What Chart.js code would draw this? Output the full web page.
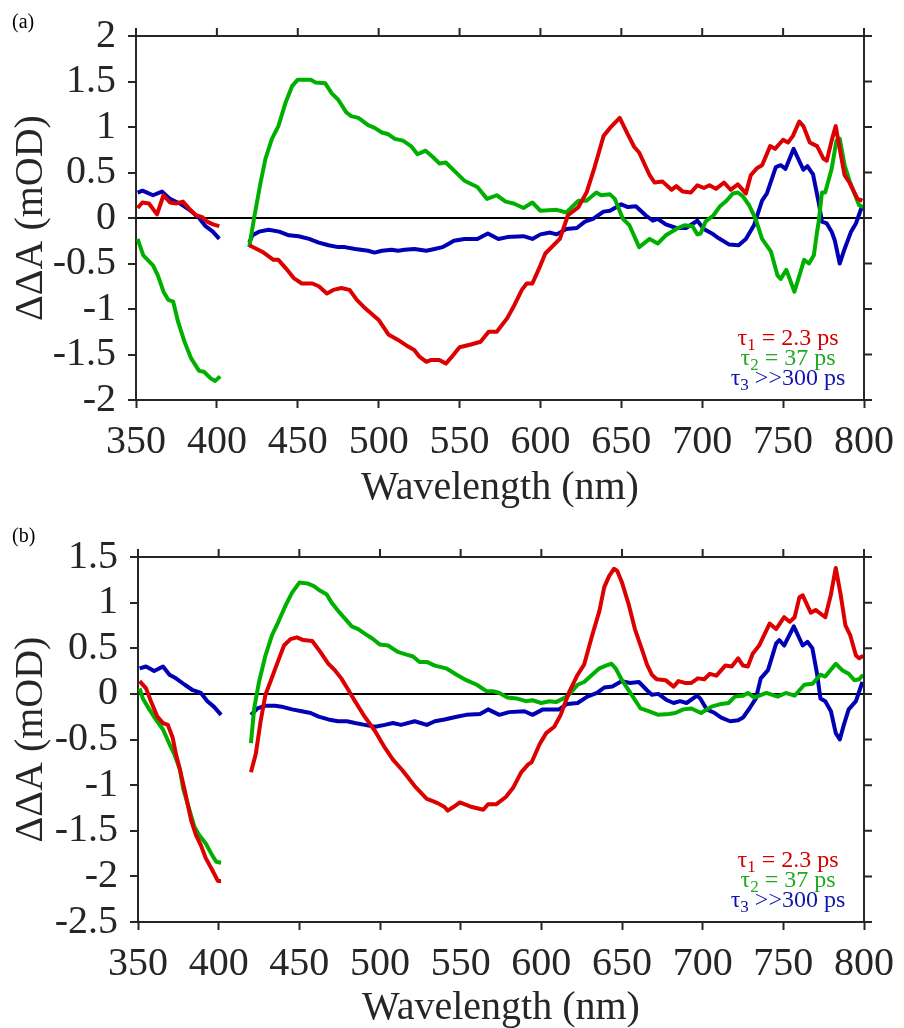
<!DOCTYPE html>
<html>
<head>
<meta charset="utf-8">
<script src="https://cdn.jsdelivr.net/npm/chart.js@4.4.0/dist/chart.umd.min.js"></script>
<style>
  body { margin: 0; background: #fff; }
  .panel { position: absolute; left: 0; width: 904px; }
  #panelA { top: 0; height: 521px; }
  #panelB { top: 521px; height: 507px; }
</style>
</head>
<body>
<div class="panel" id="panelA"><canvas id="chart_a"></canvas></div>
<div class="panel" id="panelB"><canvas id="chart_b"></canvas></div>
<script>
// wavelength (nm), value (mOD); [410, null] = gap in the measured range
const redA = [[351,0.11],[354,0.17],[358,0.16],[363,0.04],[367,0.25],[371,0.17],[375,0.16],[379,0.18],[383,0.10],[387,0.03],[391,0.01],[394,-0.04],[397.5,-0.07],[401.5,-0.09],
  [410,null],
  [420,-0.30],[428,-0.37],[435,-0.46],[438,-0.46],[442.5,-0.55],[447.5,-0.66],[452.5,-0.72],[459,-0.72],[463,-0.75],[468,-0.83],[472,-0.79],[477,-0.77],[482,-0.79],[486.5,-0.90],[491.5,-0.99],[500,-1.12],[506,-1.28],[512,-1.34],[518,-1.41],[522,-1.45],[525,-1.52],[529.5,-1.58],[532.5,-1.56],[537.5,-1.56],[541.5,-1.60],[544.5,-1.54],[550,-1.42],[557,-1.39],[563,-1.36],[568,-1.25],[573,-1.25],[579.5,-1.10],[583.5,-0.97],[588.5,-0.79],[591.5,-0.72],[595,-0.72],[600,-0.52],[603,-0.39],[608,-0.30],[612,-0.23],[617,0.03],[623.5,0.12],[628.5,0.28],[633.5,0.56],[639,0.90],[643,0.99],[649,1.10],[654,0.92],[658,0.78],[661,0.72],[667.5,0.47],[670.5,0.39],[675.5,0.40],[681,0.31],[684,0.35],[688,0.29],[693,0.28],[697,0.36],[701,0.33],[704.5,0.36],[708.5,0.32],[713.5,0.39],[717.5,0.31],[722,0.37],[727,0.27],[730,0.47],[734,0.55],[737,0.58],[742,0.79],[745,0.76],[750,0.86],[753,0.83],[756,0.90],[760,1.06],[762.5,1.01],[766.5,0.83],[771,0.79],[775,0.65],[777,0.63],[780,0.85],[782.5,1.01],[785,0.76],[788,0.47],[791,0.39],[796,0.21],[799,0.19]];

const greenA = [[351,-0.23],[354.5,-0.41],[360.5,-0.52],[363.5,-0.63],[367,-0.81],[370,-0.90],[373,-0.92],[376,-1.14],[380,-1.36],[384,-1.54],[389,-1.68],[392,-1.69],[396,-1.76],[399,-1.79],[402,-1.74],
  [410,null],
  [420,-0.32],[423,0.0],[427,0.39],[430,0.65],[434,0.87],[438,1.01],[442.5,1.27],[446.5,1.45],[450,1.52],[458,1.52],[461,1.49],[467,1.48],[471,1.37],[475,1.30],[480,1.16],[483,1.12],[487.5,1.10],[493.5,1.02],[497.5,0.99],[502,0.94],[506,0.92],[510,0.87],[515,0.85],[520,0.79],[524,0.70],[529,0.74],[533.5,0.67],[537.5,0.60],[541.5,0.61],[549,0.48],[553,0.41],[561,0.34],[567,0.21],[573,0.25],[578.5,0.18],[583.5,0.16],[589.5,0.11],[595,0.17],[600,0.08],[610,0.09],[616,0.06],[623.5,0.19],[628.5,0.19],[634.5,0.28],[637.5,0.25],[643,0.26],[646,0.21],[651,-0.01],[655,-0.08],[661,-0.32],[667.5,-0.23],[672.5,-0.28],[677.5,-0.19],[684,-0.12],[689,-0.08],[694,-0.09],[697,-0.18],[699,-0.17],[702,-0.04],[707,0.03],[711,0.13],[715,0.19],[719,0.27],[722,0.28],[725,0.24],[729,0.14],[733,-0.01],[737,-0.23],[742.5,-0.37],[746.5,-0.63],[748.5,-0.67],[752,-0.57],[757,-0.81],[763,-0.46],[766,-0.50],[769,-0.41],[771,-0.15],[772,-0.04],[774,0.28],[776,0.28],[780,0.54],[783,0.85],[785,0.87],[788,0.58],[791,0.41],[797,0.14],[799.5,0.12]];

const blueA = [[351,0.28],[354,0.30],[360.5,0.25],[366,0.29],[371,0.21],[377,0.16],[383,0.09],[389,0.0],[393,-0.09],[397.5,-0.15],[401.5,-0.23],
  [410,null],
  [420,-0.27],[422,-0.19],[426,-0.15],[432,-0.13],[438.5,-0.15],[444.5,-0.19],[450.5,-0.20],[457,-0.23],[463,-0.27],[469,-0.30],[475,-0.32],[479,-0.32],[485.5,-0.34],[493.5,-0.36],[497.5,-0.38],[502,-0.36],[508,-0.35],[512,-0.36],[516,-0.35],[522,-0.34],[529.5,-0.36],[534.5,-0.34],[539.5,-0.32],[542.5,-0.29],[546.5,-0.25],[553,-0.23],[561,-0.23],[567.5,-0.17],[574,-0.23],[579.5,-0.21],[589.5,-0.20],[595,-0.23],[600,-0.18],[606,-0.16],[610,-0.18],[616,-0.12],[622.5,-0.11],[627.5,-0.04],[632.5,-0.01],[639,0.07],[643,0.08],[650,0.15],[654,0.12],[659,0.13],[665,0.03],[669.5,-0.03],[672.5,-0.01],[677.5,-0.07],[684,-0.11],[690,-0.11],[697,-0.03],[701,-0.12],[706,-0.17],[710,-0.22],[716.5,-0.29],[722.5,-0.30],[727,-0.23],[732,-0.08],[737,0.19],[740,0.27],[745.5,0.56],[748.5,0.58],[751.5,0.54],[756.5,0.76],[762.5,0.53],[765,0.57],[768.5,0.48],[772,0.17],[774,-0.04],[777,-0.06],[780,-0.15],[782,-0.25],[785,-0.50],[788,-0.34],[792,-0.15],[795,-0.06],[799,0.14]];

const redB = [[351,0.14],[355,0.06],[358,-0.08],[362,-0.25],[365.5,-0.32],[368.5,-0.34],[371.5,-0.48],[373.5,-0.66],[376,-0.83],[379,-1.06],[383,-1.39],[386,-1.55],[389,-1.66],[392,-1.80],[396,-1.93],[399.5,-2.05],[401.5,-2.05],
  [410,null],
  [420,-0.86],[423,-0.66],[426,-0.30],[429,-0.01],[432,0.13],[436,0.32],[440.5,0.53],[444.5,0.60],[448.5,0.62],[452.5,0.59],[458,0.58],[463,0.46],[468,0.33],[472,0.26],[476,0.17],[480.5,0.04],[484.5,-0.08],[490.5,-0.25],[497,-0.41],[503,-0.59],[508,-0.72],[514,-0.84],[521.5,-1.01],[529,-1.15],[532,-1.17],[536,-1.20],[540,-1.24],[542,-1.28],[545.5,-1.24],[549.5,-1.19],[557,-1.24],[564,-1.27],[567,-1.21],[572,-1.21],[578,-1.13],[582.5,-1.03],[587.5,-0.86],[592,-0.77],[594,-0.75],[599,-0.55],[603,-0.43],[608,-0.36],[612,-0.23],[617,0.01],[622.5,0.21],[626.5,0.32],[631.5,0.64],[636,0.91],[639,1.17],[642,1.29],[645,1.37],[647,1.35],[650,1.22],[654,0.99],[658,0.71],[662.5,0.48],[665.5,0.32],[668.5,0.21],[671.5,0.16],[677,0.15],[682,0.08],[685,0.14],[689,0.12],[693,0.12],[697,0.17],[701,0.16],[704.5,0.22],[708.5,0.20],[714,0.31],[718,0.30],[722,0.39],[725,0.31],[728,0.30],[731,0.44],[735,0.53],[741.5,0.77],[745.5,0.71],[750.5,0.84],[754,0.79],[757,0.84],[760,1.06],[762,1.08],[767,0.89],[770,0.92],[776,0.84],[779.5,1.09],[782.5,1.38],[785.5,1.09],[788.5,0.75],[791.5,0.64],[795,0.42],[797,0.39],[799.5,0.42]];

const greenB = [[351,0.06],[353,-0.05],[357,-0.17],[361,-0.28],[365.5,-0.39],[369.5,-0.55],[372.5,-0.66],[376,-0.83],[378,-1.04],[382,-1.28],[385,-1.46],[388,-1.55],[392,-1.64],[396,-1.77],[398.5,-1.84],[401.5,-1.85],
  [410,null],
  [420,-0.54],[422,-0.16],[425,0.13],[429,0.42],[433,0.64],[437,0.79],[441.5,0.97],[445.5,1.11],[450,1.22],[455,1.21],[459,1.18],[463,1.13],[467,1.09],[470,1.00],[475,0.89],[479.5,0.80],[482.5,0.74],[486.5,0.71],[490.5,0.66],[495,0.61],[500,0.54],[505,0.53],[511,0.46],[516.5,0.43],[520.5,0.41],[524.5,0.35],[529,0.35],[534,0.31],[541,0.28],[547.5,0.21],[553.5,0.15],[560,0.10],[566,0.03],[570,0.03],[574,0.01],[579,-0.04],[584.5,-0.05],[590.5,-0.08],[594.5,-0.07],[600,-0.10],[605,-0.08],[609,-0.09],[616,-0.03],[622.5,0.10],[626.5,0.13],[631.5,0.21],[636,0.28],[640,0.31],[643.5,0.33],[646,0.28],[650,0.15],[656,-0.01],[661.5,-0.16],[666.5,-0.19],[672.5,-0.23],[679,-0.22],[683,-0.21],[688,-0.17],[693,-0.16],[699,-0.21],[705.5,-0.14],[711.5,-0.11],[716,-0.10],[720,-0.03],[725,-0.02],[728,0.01],[732,-0.04],[739.5,0.01],[746.5,-0.03],[751.5,0.01],[757,-0.02],[763,0.10],[768,0.11],[773,0.21],[776,0.19],[782.5,0.33],[786.5,0.26],[790.5,0.22],[794,0.15],[797,0.16],[799.5,0.21]];

const blueB = [[351,0.28],[355,0.30],[360,0.25],[365.5,0.30],[369.5,0.21],[373.5,0.17],[379,0.10],[384,0.04],[389,0.01],[393,-0.08],[397,-0.14],[401.5,-0.23],
  [410,null],
  [420,-0.23],[424,-0.16],[429,-0.13],[435,-0.13],[439,-0.14],[445.5,-0.17],[451.5,-0.19],[457,-0.21],[462,-0.25],[468,-0.28],[474,-0.30],[479.5,-0.30],[484.5,-0.32],[490.5,-0.34],[497,-0.36],[503,-0.34],[508,-0.32],[513,-0.34],[521.5,-0.30],[529,-0.34],[534,-0.30],[540,-0.28],[547.5,-0.25],[553.5,-0.23],[562,-0.22],[567,-0.17],[574,-0.23],[580,-0.20],[589.5,-0.19],[594.5,-0.23],[601,-0.17],[607,-0.17],[611,-0.17],[616,-0.11],[622.5,-0.10],[628.5,-0.03],[634.5,0.01],[639,0.07],[644,0.08],[650,0.14],[655,0.12],[660.5,0.13],[665.5,0.04],[668.5,-0.01],[672.5,0.0],[678,-0.07],[682,-0.10],[686,-0.08],[690,-0.10],[696.5,-0.02],[698.5,-0.05],[702.5,-0.17],[707.5,-0.21],[711.5,-0.26],[717,-0.30],[722,-0.29],[725,-0.26],[729,-0.16],[733,-0.05],[736,0.17],[740.5,0.26],[745.5,0.55],[747.5,0.59],[750.5,0.53],[756.5,0.74],[762,0.53],[765,0.57],[768,0.50],[771,0.21],[773,-0.05],[776,-0.08],[779.5,-0.19],[782.5,-0.43],[785,-0.50],[787.5,-0.34],[790.5,-0.17],[795,-0.08],[799,0.13]];

const xTicks = [350, 400, 450, 500, 550, 600, 650, 700, 750, 800];
const yTicksA = [2, 1.5, 1, 0.5, 0, -0.5, -1, -1.5, -2];
const yTicksB = [1.5, 1, 0.5, 0, -0.5, -1, -1.5, -2, -2.5];

const legendSub = ['1', '2', '3'];
const legendRest = [' = 2.3 ps', ' = 37 ps', ' >>300 ps'];
const legendColors = ['#d40000', '#22a822', '#1212b0'];
const lineColors = ['#dc0000', '#00b000', '#0000b4'];

const axisColor = '#262626';
const serif = '"Liberation Serif", "Times New Roman", serif';

const toPoints = pairs => pairs.map(p => ({x: p[0], y: p[1]}));

// box on the top/right, panel tag and the tau legend
const panelDeco = {
    id: 'panelDeco',
    afterDraw(chart, args, opts) {
        const {ctx, chartArea: a, scales: {x, y}} = chart;
        ctx.save();
        ctx.strokeStyle = axisColor;
        ctx.lineWidth = 2;
        ctx.beginPath();
        ctx.moveTo(a.left - 1, a.top);
        ctx.lineTo(a.right + 1, a.top);
        ctx.moveTo(a.right, a.top - 1);
        ctx.lineTo(a.right, a.bottom + 1);
        x.ticks.forEach(t => {
            const px = x.getPixelForValue(t.value);
            ctx.moveTo(px, a.top);
            ctx.lineTo(px, a.top - 8);
        });
        y.ticks.forEach(t => {
            const py = y.getPixelForValue(t.value);
            ctx.moveTo(a.right, py);
            ctx.lineTo(a.right + 8, py);
        });
        ctx.stroke();

        ctx.fillStyle = '#000';
        ctx.font = '20px ' + serif;
        ctx.textBaseline = 'middle';
        ctx.fillText(opts.tag, 12, opts.tagY);

        ctx.textBaseline = 'alphabetic';
        const cx = a.right - 76;
        const mainFont = '24px ' + serif;
        const subFont = '17px ' + serif;
        for (let i = 0; i < 3; i++) {
            const by = a.bottom - 55 + i * 20;
            ctx.font = mainFont;
            const wTau = ctx.measureText('τ').width;
            const wRest = ctx.measureText(legendRest[i]).width;
            ctx.font = subFont;
            const wSub = ctx.measureText(legendSub[i]).width;
            let sx = cx - (wTau + wSub + wRest) / 2;
            ctx.fillStyle = legendColors[i];
            ctx.font = mainFont;
            ctx.fillText('τ', sx, by);
            ctx.font = subFont;
            ctx.fillText(legendSub[i], sx + wTau, by + 5);
            ctx.font = mainFont;
            ctx.fillText(legendRest[i], sx + wTau + wSub, by);
        }
        ctx.restore();
    }
};

function makeChart(canvasId, series, yTicks, left, right, tag, tagY) {
    const ctx = document.getElementById(canvasId).getContext('2d');
    return new Chart(ctx, {
        type: 'line',
        data: {
            datasets: series.map((s, i) => ({
                data: toPoints(s),
                borderColor: lineColors[i],
                backgroundColor: lineColors[i],
                borderWidth: 4,
                pointRadius: 0,
                tension: 0,
                fill: false,
                spanGaps: false,
                borderJoinStyle: 'round'
            }))
        },
        options: {
            responsive: true,
            maintainAspectRatio: false,
            animation: false,
            events: [],
            layout: {
                padding: {top: 33, right: 904 - right, left: 0, bottom: 0}
            },
            scales: {
                x: {
                    type: 'linear',
                    min: 350,
                    max: 800,
                    afterBuildTicks: s => { s.ticks = xTicks.map(v => ({value: v})); },
                    afterFit: s => { s.height = s.chart.height - (tag === '(a)' ? 400 : 401); },
                    ticks: {
                        color: axisColor,
                        font: {family: serif, size: 40},
                        padding: 10,
                        maxRotation: 0,
                        autoSkip: false,
                        callback: v => String(v)
                    },
                    grid: {
                        drawOnChartArea: false,
                        tickLength: 8,
                        tickColor: axisColor,
                        tickWidth: 2
                    },
                    border: {color: axisColor, width: 2},
                    title: {
                        display: true,
                        text: 'Wavelength (nm)',
                        color: axisColor,
                        font: {family: serif, size: 40, lineHeight: 1},
                        padding: {top: 0, bottom: tag === '(a)' ? 13 : 0}
                    }
                },
                y: {
                    min: yTicks[yTicks.length - 1],
                    max: yTicks[0],
                    afterBuildTicks: s => { s.ticks = yTicks.map(v => ({value: v})); },
                    afterFit: s => { s.width = left; },
                    ticks: {
                        color: axisColor,
                        font: {family: serif, size: 40},
                        padding: 12,
                        autoSkip: false,
                        callback: v => String(v)
                    },
                    grid: {
                        drawOnChartArea: true,
                        color: c => (c.tick && c.tick.value === 0) ? '#000' : 'rgba(0,0,0,0)',
                        lineWidth: 2,
                        tickLength: 8,
                        tickColor: axisColor,
                        tickWidth: 2
                    },
                    border: {color: axisColor, width: 2},
                    title: {
                        display: true,
                        text: 'ΔΔA (mOD)',
                        color: axisColor,
                        font: {family: serif, size: 40, lineHeight: 1},
                        padding: {top: 11, bottom: 0}
                    }
                }
            },
            plugins: {
                legend: {display: false},
                tooltip: {enabled: false},
                panelDeco: {tag: tag, tagY: tagY}
            }
        },
        plugins: [panelDeco]
    });
}

makeChart('chart_a', [redA, greenA, blueA], yTicksA, 136, 869, '(a)', 23);
makeChart('chart_b', [redB, greenB, blueB], yTicksB, 138, 870, '(b)', 16);
</script>
</body>
</html>
